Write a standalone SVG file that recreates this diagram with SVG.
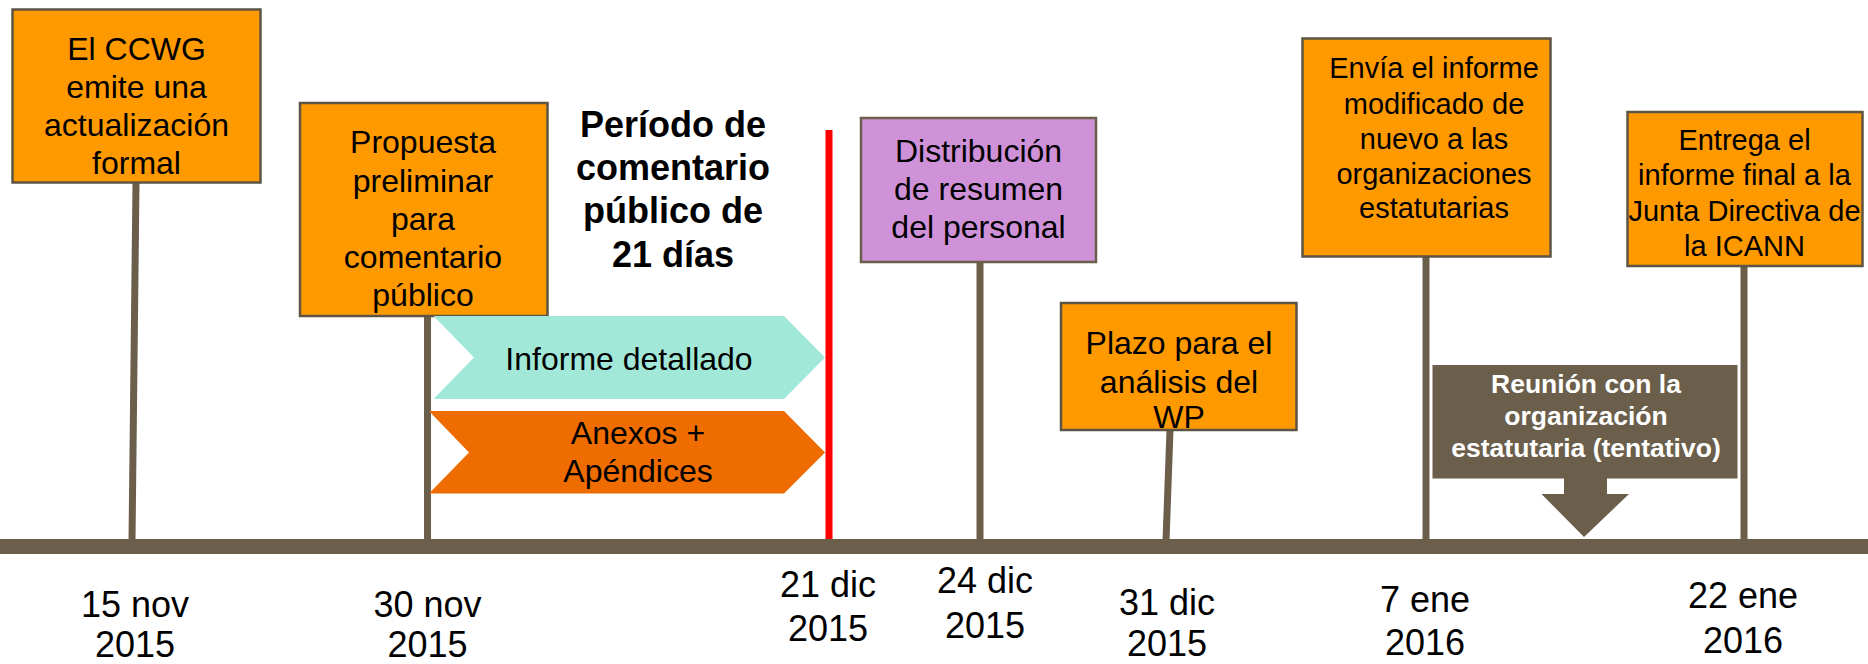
<svg xmlns="http://www.w3.org/2000/svg" width="1868" height="664" viewBox="0 0 1868 664">
<style>
text{font-family:"Liberation Sans",Arial,sans-serif;fill:#000;text-anchor:middle}
.t32{font-size:32px}
.t29{font-size:29px}
.date{font-size:36px}
.box{fill:#FF9900;stroke:#5e5444;stroke-width:2.5}
.stem{stroke:#6B5E4A;stroke-width:7;fill:none}
</style>
<rect width="1868" height="664" fill="#fff"/>
<g id="connectors">
<line class="stem" x1="136" y1="183" x2="132" y2="541"/>
<line class="stem" x1="427.5" y1="316" x2="427.5" y2="541"/>
<line class="stem" x1="980" y1="262" x2="980" y2="541"/>
<line class="stem" x1="1170" y1="430" x2="1166" y2="541"/>
<line class="stem" x1="1426" y1="257" x2="1426" y2="541"/>
<line class="stem" x1="1744" y1="266" x2="1744" y2="541"/>
<line x1="829" y1="130" x2="829" y2="541" stroke="#FF0000" stroke-width="7"/>
</g>
<g id="timeline">
<rect x="0" y="539" width="1868" height="15" fill="#6B5E4A"/>
</g>
<g id="n1">
<rect class="box" x="12.5" y="9.5" width="248" height="173"/>
<text class="t32" x="136.5" y="60">El CCWG</text>
<text class="t32" x="136.5" y="98">emite una</text>
<text class="t32" x="136.5" y="136">actualización</text>
<text class="t32" x="136.5" y="174">formal</text>
</g>
<g id="n2">
<rect class="box" x="300" y="103" width="247.5" height="213"/>
<text class="t32" x="423" y="153">Propuesta</text>
<text class="t32" x="423" y="192">preliminar</text>
<text class="t32" x="423" y="230">para</text>
<text class="t32" x="423" y="268">comentario</text>
<text class="t32" x="423" y="306">público</text>
</g>
<g id="title">
<text x="673" y="137" font-size="36" font-weight="bold">Período de</text>
<text x="673" y="180" font-size="36" font-weight="bold">comentario</text>
<text x="673" y="223" font-size="36" font-weight="bold">público de</text>
<text x="673" y="267" font-size="36" font-weight="bold">21 días</text>
</g>
<g id="informe">
<polygon points="433.5,316 784,316 825,357.5 784,399 433.5,399 474,357.5" fill="#A2E8D8"/>
<text class="t32" x="629" y="370">Informe detallado</text>
</g>
<g id="anexos">
<polygon points="429,411 784,411 825,452.5 784,493.5 429,493.5 469,452.5" fill="#EE6C00"/>
<text class="t32" x="638" y="444">Anexos +</text>
<text class="t32" x="638" y="482">Apéndices</text>
</g>
<g id="n3">
<rect x="861" y="118" width="235" height="144" fill="#CF92D8" stroke="#6B5E4A" stroke-width="2.5"/>
<text class="t32" x="978.5" y="162">Distribución</text>
<text class="t32" x="978.5" y="200">de resumen</text>
<text class="t32" x="978.5" y="238">del personal</text>
</g>
<g id="n4">
<rect class="box" x="1061" y="303" width="235.5" height="127"/>
<text class="t32" x="1179" y="354">Plazo para el</text>
<text class="t32" x="1179" y="393">análisis del</text>
<text class="t32" x="1179" y="428">WP</text>
</g>
<g id="n5">
<rect class="box" x="1302.5" y="38.5" width="248" height="218"/>
<text class="t29" x="1434" y="78">Envía el informe</text>
<text class="t29" x="1434" y="114">modificado de</text>
<text class="t29" x="1434" y="149">nuevo a las</text>
<text class="t29" x="1434" y="184">organizaciones</text>
<text class="t29" x="1434" y="218">estatutarias</text>
</g>
<g id="n6">
<rect class="box" x="1627.5" y="112" width="235" height="154"/>
<text class="t29" x="1744.5" y="150">Entrega el</text>
<text class="t29" x="1744.5" y="185">informe final a la</text>
<text class="t29" x="1744.5" y="221">Junta Directiva de</text>
<text class="t29" x="1744.5" y="256">la ICANN</text>
</g>
<g id="n7">
<rect x="1432.5" y="365" width="305" height="113.5" fill="#6B5E4A"/>
<polygon points="1564,478 1607,478 1607,494 1629,494 1584,537 1541.5,494 1564,494" fill="#6B5E4A"/>
<text x="1586" y="393" font-size="26.5" font-weight="bold" style="fill:#fff">Reunión con la</text>
<text x="1586" y="425" font-size="26.5" font-weight="bold" style="fill:#fff">organización</text>
<text x="1586" y="457" font-size="26.5" font-weight="bold" style="fill:#fff">estatutaria (tentativo)</text>
</g>
<g id="dates">
<text class="date" x="135" y="617">15 nov</text>
<text class="date" x="135" y="657">2015</text>
<text class="date" x="427.5" y="617">30 nov</text>
<text class="date" x="427.5" y="657">2015</text>
<text class="date" x="828" y="597">21 dic</text>
<text class="date" x="828" y="641">2015</text>
<text class="date" x="985" y="593">24 dic</text>
<text class="date" x="985" y="638">2015</text>
<text class="date" x="1167" y="615">31 dic</text>
<text class="date" x="1167" y="656">2015</text>
<text class="date" x="1425" y="612">7 ene</text>
<text class="date" x="1425" y="655">2016</text>
<text class="date" x="1743" y="608">22 ene</text>
<text class="date" x="1743" y="653">2016</text>
</g>
</svg>
